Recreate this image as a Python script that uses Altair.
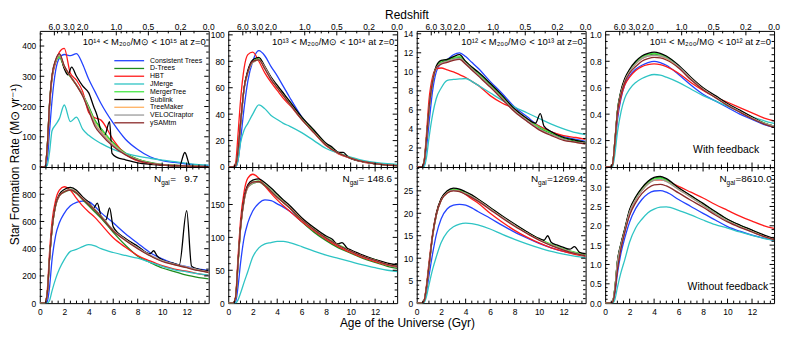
import altair as alt
import pandas as pd
import numpy as np

# ---------------------------------------------------------------- data
MODELS = ["Consistent Trees", "D-Trees", "HBT", "JMerge", "MergerTree",
          "Sublink", "TreeMaker", "VELOCIraptor", "ySAMtm"]
COLORS = ["#2343ff", "#1e8c1e", "#ff1a1a", "#2ec4c4", "#45e845",
          "#000000", "#ffb060", "#9a9a9a", "#8b2a2a"]

# common age grid (Gyr)
AGE = [0, 0.4, 0.6, 0.8, 1.0, 1.3, 1.6, 2.0, 2.5, 3.0, 3.5, 4.0, 4.5, 5.0,
       6.0, 7.0, 8.0, 9.0, 10.0, 11.0, 12.0, 13.0, 13.8]

# ---- top row: with feedback
P1_SFR = {
    "Consistent Trees": [0, 0, 20, 120, 220, 320, 360, 372, 368, 375, 340, 290, 250, 210, 145, 92, 58, 34, 21, 15, 10, 6, 5],
    "D-Trees":          [0, 0, 60, 210, 300, 352, 368, 330, 300, 272, 240, 200, 155, 128, 80, 46, 26, 15, 9, 6, 4, 2, 1],
    "HBT":              [0, 0, 55, 200, 290, 345, 380, 392, 310, 287, 250, 180, 163, 155, 90, 42, 20, 11, 6, 4, 3, 2, 1],
    "JMerge":           [0, 0, 5, 50, 120, 140, 160, 205, 150, 165, 125, 105, 90, 78, 58, 45, 36, 29, 23, 18, 12, 8, 6],
    "MergerTree":       [0, 0, 58, 205, 295, 348, 362, 328, 298, 270, 238, 196, 152, 126, 78, 44, 25, 14, 8, 5, 3, 2, 1],
    "Sublink":          [0, 0, 60, 210, 300, 350, 372, 325, 305, 330, 300, 268, 245, 200, 168, 120, 105, 150, 45, 32, 24, 14, 9, 6, 3, 2, 48, 2, 1, 1],
    "TreeMaker":        [0, 0, 60, 208, 300, 350, 370, 332, 300, 271, 237, 192, 145, 118, 74, 42, 24, 13, 8, 5, 3, 2, 1],
    "VELOCIraptor":     [0, 0, 60, 208, 300, 352, 372, 334, 301, 272, 238, 190, 142, 114, 72, 42, 23, 13, 8, 5, 3, 2, 1],
    "ySAMtm":           [0, 0, 62, 212, 303, 355, 375, 335, 300, 270, 235, 186, 135, 108, 68, 40, 22, 12, 7, 5, 3, 2, 1],
}
P1_SUBLINK_AGE = [0, 0.4, 0.6, 0.8, 1.0, 1.3, 1.6, 2.0, 2.3, 2.6, 3.0, 3.5, 4.0, 4.4, 4.7, 5.0, 5.3,
                  5.7, 5.9, 6.3, 7.0, 8.0, 9.0, 10.0, 11.0, 11.4, 11.85, 12.3, 13.0, 13.8]

P2_SFR = {
    "Consistent Trees": [0, 0, 0, 5, 20, 45, 65, 80, 88, 84, 76, 69, 61, 53, 38, 27, 17, 11, 7, 4, 2.5, 1.5, 1],
    "D-Trees":          [0, 0, 1, 12, 32, 60, 72, 79, 81, 75, 67, 61, 55, 49, 37, 27, 17, 11, 7, 4, 2.5, 1.5, 1],
    "HBT":              [0, 0, 3, 25, 50, 75, 85, 87, 80, 71, 64, 58, 52, 47, 36, 26, 16, 10, 6.5, 3.8, 2.6, 1.8, 1.5],
    "JMerge":           [0, 0, 0, 5, 18, 28, 33, 40, 47, 44, 39, 36, 33, 31, 26, 20, 14, 10.5, 7.5, 5, 3.5, 2.5, 2],
    "MergerTree":       [0, 0, 1, 12, 32, 60, 72, 80, 82, 75, 67, 61, 55, 49, 37, 27, 17, 11, 7, 4, 2.5, 1.5, 1],
    "Sublink":          [0, 0, 1, 12, 32, 60, 73, 81, 83, 76, 68, 62, 56, 50, 38, 28, 18, 15, 11, 11, 7.5, 4, 2.5, 1.5, 1],
    "TreeMaker":        [0, 0, 1, 12, 32, 59, 71, 79, 81, 75, 67, 60, 54, 48, 36, 26, 16.5, 10.5, 6.8, 4, 2.5, 1.5, 1],
    "VELOCIraptor":     [0, 0, 1, 12, 32, 59, 71, 79, 81, 75, 67, 60, 54, 48, 36, 26, 16.5, 10.5, 6.8, 4, 2.5, 1.5, 1],
    "ySAMtm":           [0, 0, 1, 13, 33, 60, 72, 80, 81, 74, 66, 60, 54, 48, 36, 26, 16.5, 10.5, 6.8, 4, 2.5, 1.5, 1],
}
P2_SUBLINK_AGE = [0, 0.4, 0.6, 0.8, 1.0, 1.3, 1.6, 2.0, 2.5, 3.0, 3.5, 4.0, 4.5, 5.0, 6.0, 7.0,
                  8.0, 8.5, 9.0, 9.4, 9.8, 11.0, 12.0, 13.0, 13.8]

P3_SFR = {
    "Consistent Trees": [0, 0, 0.2, 2.0, 4.5, 8.0, 10.0, 10.9, 11.3, 11.8, 12.0, 11.6, 11.0, 10.4, 9.0, 7.7, 6.3, 5.3, 4.3, 3.7, 3.2, 2.9, 2.7],
    "D-Trees":          [0, 0, 0.5, 3.0, 6.0, 9.0, 10.5, 11.0, 11.2, 11.4, 11.5, 11.0, 10.4, 9.8, 8.6, 7.3, 6.0, 5.0, 4.1, 3.5, 3.0, 2.7, 2.5],
    "HBT":              [0, 0, 0.6, 3.5, 7.0, 9.5, 10.3, 10.4, 10.2, 10.0, 9.7, 9.4, 9.0, 8.6, 7.5, 6.7, 6.1, 5.1, 4.3, 3.7, 3.3, 3.1, 2.9],
    "JMerge":           [0, 0, 0, 1.0, 3.0, 5.5, 7.2, 8.3, 9.1, 9.2, 9.25, 9.3, 9.0, 8.6, 7.8, 7.0, 6.3, 5.7, 5.1, 4.5, 4.0, 3.6, 3.4],
    "MergerTree":       [0, 0, 0.5, 3.0, 6.0, 9.0, 10.5, 11.1, 11.3, 11.5, 11.6, 11.1, 10.5, 9.9, 8.7, 7.4, 6.1, 5.1, 4.2, 3.6, 3.1, 2.8, 2.6],
    "Sublink":          [0, 0, 0.5, 3.0, 6.0, 9.0, 10.6, 11.2, 11.3, 11.6, 11.8, 11.1, 10.5, 10.0, 8.8, 7.5, 6.1, 5.1, 4.6, 5.6, 4.3, 3.7, 3.1, 2.8, 2.6],
    "TreeMaker":        [0, 0, 0.5, 3.0, 6.0, 9.0, 10.4, 10.9, 11.1, 11.3, 11.4, 10.9, 10.3, 9.7, 8.5, 7.2, 5.9, 4.9, 4.0, 3.4, 2.9, 2.6, 2.5],
    "VELOCIraptor":     [0, 0, 0.5, 3.0, 6.0, 9.0, 10.4, 10.9, 11.1, 11.3, 11.4, 10.9, 10.3, 9.7, 8.5, 7.2, 5.9, 4.9, 4.0, 3.4, 2.9, 2.6, 2.5],
    "ySAMtm":           [0, 0, 0.5, 3.0, 6.1, 9.0, 10.4, 10.8, 11.0, 11.2, 11.3, 10.8, 10.2, 9.6, 8.4, 7.1, 5.8, 4.8, 3.9, 3.3, 2.8, 2.6, 2.4],
}
P3_SUBLINK_AGE = [0, 0.4, 0.6, 0.8, 1.0, 1.3, 1.6, 2.0, 2.5, 3.0, 3.5, 4.0, 4.5, 5.0, 6.0, 7.0,
                  8.0, 9.0, 9.7, 10.1, 10.4, 11.0, 12.0, 13.0, 13.8]

P4_SFR = {
    "Consistent Trees": [0, 0, 0.01, 0.15, 0.35, 0.52, 0.62, 0.69, 0.74, 0.77, 0.79, 0.80, 0.79, 0.77, 0.70, 0.62, 0.55, 0.50, 0.45, 0.40, 0.36, 0.32, 0.30],
    "D-Trees":          [0, 0, 0.02, 0.20, 0.42, 0.57, 0.66, 0.73, 0.79, 0.83, 0.85, 0.855, 0.85, 0.83, 0.76, 0.67, 0.59, 0.53, 0.47, 0.42, 0.37, 0.33, 0.31],
    "HBT":              [0, 0, 0.02, 0.18, 0.38, 0.53, 0.62, 0.68, 0.73, 0.76, 0.775, 0.78, 0.775, 0.76, 0.71, 0.64, 0.58, 0.53, 0.49, 0.45, 0.41, 0.37, 0.35],
    "JMerge":           [0, 0, 0, 0.10, 0.26, 0.42, 0.52, 0.59, 0.64, 0.67, 0.69, 0.70, 0.695, 0.68, 0.64, 0.59, 0.54, 0.50, 0.46, 0.42, 0.38, 0.35, 0.33],
    "MergerTree":       [0, 0, 0.02, 0.20, 0.42, 0.57, 0.66, 0.73, 0.79, 0.83, 0.85, 0.86, 0.85, 0.835, 0.765, 0.675, 0.595, 0.535, 0.475, 0.425, 0.375, 0.335, 0.31],
    "Sublink":          [0, 0, 0.02, 0.20, 0.42, 0.58, 0.67, 0.74, 0.80, 0.84, 0.86, 0.87, 0.86, 0.84, 0.77, 0.68, 0.60, 0.54, 0.48, 0.43, 0.38, 0.33, 0.31],
    "TreeMaker":        [0, 0, 0.02, 0.20, 0.41, 0.56, 0.65, 0.72, 0.78, 0.82, 0.84, 0.845, 0.84, 0.82, 0.755, 0.67, 0.59, 0.53, 0.47, 0.42, 0.37, 0.33, 0.31],
    "VELOCIraptor":     [0, 0, 0.02, 0.20, 0.41, 0.56, 0.65, 0.72, 0.78, 0.82, 0.84, 0.845, 0.84, 0.825, 0.76, 0.67, 0.59, 0.53, 0.47, 0.42, 0.37, 0.33, 0.31],
    "ySAMtm":           [0, 0, 0.02, 0.20, 0.41, 0.55, 0.64, 0.71, 0.76, 0.80, 0.82, 0.83, 0.825, 0.81, 0.75, 0.66, 0.585, 0.525, 0.465, 0.415, 0.365, 0.325, 0.30],
}

# ---- bottom row: without feedback
P5_SFR = {
    "Consistent Trees": [0, 0, 10, 120, 320, 500, 590, 660, 715, 740, 750, 745, 710, 665, 590, 510, 440, 372, 325, 290, 268, 250, 240],
    "D-Trees":          [0, 0, 60, 330, 540, 720, 790, 815, 830, 805, 760, 715, 670, 625, 520, 425, 345, 300, 258, 232, 205, 188, 178],
    "HBT":              [0, 0, 80, 380, 600, 760, 830, 855, 830, 770, 715, 670, 630, 580, 480, 410, 350, 310, 275, 250, 235, 215, 205],
    "JMerge":           [0, 0, 0, 20, 90, 180, 250, 320, 380, 395, 415, 430, 420, 400, 372, 350, 330, 300, 270, 245, 230, 215, 205],
    "MergerTree":       [0, 0, 60, 330, 540, 720, 792, 820, 838, 818, 772, 732, 690, 640, 535, 463, 405, 350, 310, 284, 262, 240, 226],
    "Sublink":          [0, 0, 60, 335, 550, 728, 800, 835, 850, 830, 780, 742, 700, 735, 640, 610, 700, 560, 475, 418, 362, 385, 345, 318, 290, 282, 680, 272, 248, 236],
    "TreeMaker":        [0, 0, 60, 330, 540, 718, 788, 818, 835, 815, 770, 730, 688, 640, 535, 465, 405, 352, 312, 285, 264, 242, 228],
    "VELOCIraptor":     [0, 0, 60, 330, 540, 718, 788, 818, 835, 815, 770, 730, 688, 640, 537, 466, 406, 353, 312, 286, 265, 243, 229],
    "ySAMtm":           [0, 0, 62, 335, 545, 722, 790, 818, 832, 810, 765, 725, 682, 635, 530, 460, 400, 348, 306, 282, 260, 238, 225],
}
P5_SUBLINK_AGE = [0, 0.4, 0.6, 0.8, 1.0, 1.3, 1.6, 2.0, 2.5, 3.0, 3.5, 4.0, 4.4, 4.7, 5.0, 5.4, 5.7,
                  6.0, 7.0, 8.0, 9.0, 9.3, 9.6, 10.0, 11.0, 11.4, 12.0, 12.4, 13.0, 13.8]

P6_SFR = {
    "Consistent Trees": [0, 0, 2, 25, 60, 100, 122, 140, 152, 157, 156, 151, 146, 140, 124, 110, 97, 86, 77, 70, 64, 58, 55],
    "D-Trees":          [0, 0, 8, 60, 112, 157, 176, 182, 184, 178, 170, 161, 153, 145, 124, 108, 95, 84, 76, 68, 62, 56, 53],
    "HBT":              [0, 0, 10, 70, 125, 170, 190, 196, 190, 178, 167, 157, 148, 140, 124, 110, 97, 86, 77, 69, 63, 58, 55],
    "JMerge":           [0, 0, 0, 5, 15, 32, 48, 70, 84, 90, 92, 94, 94, 92, 86, 79, 73, 68, 63, 58, 54, 50, 48],
    "MergerTree":       [0, 0, 8, 60, 112, 157, 177, 184, 186, 180, 172, 163, 155, 147, 128, 113, 100, 89, 80, 72, 66, 60, 57],
    "Sublink":          [0, 0, 8, 62, 115, 160, 180, 187, 189, 183, 175, 166, 157, 149, 130, 115, 102, 97, 90, 92, 84, 81, 73, 66, 61, 58],
    "TreeMaker":        [0, 0, 8, 60, 112, 156, 176, 183, 185, 179, 171, 162, 154, 146, 127, 112, 99, 88, 79, 71, 65, 59, 56],
    "VELOCIraptor":     [0, 0, 8, 60, 112, 156, 176, 183, 185, 179, 171, 162, 154, 146, 127, 112, 99, 88, 79, 71, 65, 59, 56],
    "ySAMtm":           [0, 0, 9, 62, 114, 158, 178, 184, 185, 179, 170, 161, 153, 145, 127, 112, 99, 88, 79, 71, 65, 59, 56],
}
P6_SUBLINK_AGE = [0, 0.4, 0.6, 0.8, 1.0, 1.3, 1.6, 2.0, 2.5, 3.0, 3.5, 4.0, 4.5, 5.0, 6.0, 7.0,
                  8.0, 8.5, 8.9, 9.3, 9.7, 10.0, 11.0, 12.0, 13.0, 13.8]

P7_SFR = {
    "Consistent Trees": [0, 0, 0.3, 2.5, 6.0, 11.0, 15.2, 18.8, 21.0, 21.8, 22.0, 21.8, 21.2, 20.4, 18.9, 17.3, 15.8, 14.5, 13.3, 12.3, 11.5, 10.9, 10.5],
    "D-Trees":          [0, 0, 0.5, 3.5, 8.0, 15.0, 19.6, 23.0, 24.7, 25.3, 25.1, 24.5, 23.8, 23.0, 21.1, 19.2, 17.4, 15.7, 14.2, 13.0, 12.0, 11.2, 10.7],
    "HBT":              [0, 0, 0.6, 4.0, 9.0, 15.5, 20.0, 23.2, 24.7, 25.2, 25.0, 24.2, 23.2, 22.3, 20.0, 18.0, 16.2, 14.7, 13.4, 12.3, 11.5, 10.8, 10.4],
    "JMerge":           [0, 0, 0.1, 1.5, 4.0, 7.5, 10.3, 13.5, 15.8, 17.0, 17.6, 17.8, 17.7, 17.4, 16.5, 15.3, 14.2, 13.2, 12.3, 11.5, 10.9, 10.4, 10.1],
    "MergerTree":       [0, 0, 0.5, 3.5, 8.0, 15.0, 19.7, 23.1, 24.8, 25.4, 25.2, 24.6, 23.9, 23.1, 21.2, 19.3, 17.5, 15.8, 14.3, 13.1, 12.1, 11.3, 10.8],
    "Sublink":          [0, 0, 0.5, 3.6, 8.2, 15.2, 19.9, 23.3, 25.0, 25.6, 25.4, 24.8, 24.1, 23.2, 21.3, 19.4, 17.6, 15.9, 14.4, 14.0, 15.0, 13.5, 12.9, 12.4, 12.0, 12.6, 11.3, 11.0],
    "TreeMaker":        [0, 0, 0.5, 3.5, 8.0, 14.8, 19.5, 22.9, 24.6, 25.1, 24.9, 24.4, 23.7, 22.9, 21.0, 19.1, 17.3, 15.6, 14.1, 12.9, 11.9, 11.1, 10.6],
    "VELOCIraptor":     [0, 0, 0.5, 3.5, 8.0, 14.8, 19.5, 22.9, 24.6, 25.1, 24.9, 24.4, 23.7, 22.9, 21.0, 19.1, 17.3, 15.6, 14.1, 12.9, 11.9, 11.1, 10.6],
    "ySAMtm":           [0, 0, 0.5, 3.6, 8.1, 15.0, 19.6, 22.9, 24.5, 25.0, 24.8, 24.2, 23.5, 22.7, 20.8, 18.9, 17.1, 15.5, 14.0, 12.8, 11.8, 11.0, 10.5],
}
P7_SUBLINK_AGE = [0, 0.4, 0.6, 0.8, 1.0, 1.3, 1.6, 2.0, 2.5, 3.0, 3.5, 4.0, 4.5, 5.0, 6.0, 7.0,
                  8.0, 9.0, 10.0, 10.4, 10.7, 11.0, 11.5, 12.0, 12.5, 12.9, 13.3, 13.8]

P8_SFR = {
    "Consistent Trees": [0, 0, 0.02, 0.25, 0.75, 1.30, 1.68, 2.10, 2.45, 2.68, 2.83, 2.90, 2.91, 2.87, 2.68, 2.50, 2.32, 2.15, 1.98, 1.86, 1.76, 1.68, 1.62],
    "D-Trees":          [0, 0, 0.03, 0.40, 1.06, 1.53, 1.90, 2.40, 2.73, 2.96, 3.13, 3.23, 3.25, 3.19, 2.97, 2.77, 2.56, 2.35, 2.16, 2.01, 1.88, 1.74, 1.65],
    "HBT":              [0, 0, 0.03, 0.35, 0.90, 1.45, 1.85, 2.30, 2.68, 2.93, 3.10, 3.18, 3.19, 3.16, 3.02, 2.87, 2.72, 2.55, 2.40, 2.25, 2.12, 2.00, 1.93],
    "JMerge":           [0, 0, 0, 0.10, 0.40, 0.80, 1.12, 1.58, 1.95, 2.17, 2.34, 2.43, 2.48, 2.49, 2.40, 2.28, 2.15, 2.03, 1.94, 1.84, 1.75, 1.67, 1.62],
    "MergerTree":       [0, 0, 0.03, 0.40, 1.05, 1.52, 1.89, 2.38, 2.71, 2.94, 3.11, 3.21, 3.23, 3.18, 2.96, 2.76, 2.55, 2.34, 2.15, 2.00, 1.87, 1.73, 1.65],
    "Sublink":          [0, 0, 0.03, 0.40, 1.08, 1.55, 1.92, 2.42, 2.75, 2.98, 3.15, 3.25, 3.28, 3.22, 2.98, 2.78, 2.58, 2.37, 2.17, 2.02, 1.89, 1.76, 1.67],
    "TreeMaker":        [0, 0, 0.03, 0.38, 1.02, 1.50, 1.86, 2.35, 2.68, 2.91, 3.08, 3.18, 3.20, 3.15, 2.94, 2.74, 2.53, 2.32, 2.13, 1.98, 1.85, 1.72, 1.64],
    "VELOCIraptor":     [0, 0, 0.03, 0.38, 1.02, 1.50, 1.86, 2.35, 2.68, 2.91, 3.08, 3.18, 3.20, 3.15, 2.94, 2.74, 2.53, 2.32, 2.13, 1.98, 1.85, 1.72, 1.64],
    "ySAMtm":           [0, 0, 0.02, 0.30, 0.85, 1.42, 1.83, 2.27, 2.60, 2.83, 2.98, 3.06, 3.07, 3.03, 2.85, 2.66, 2.48, 2.28, 2.10, 1.96, 1.84, 1.72, 1.64],
}

# axis ticks / labels
AGE_TICKS = [0, 2, 4, 6, 8, 10, 12]
AGE_MINOR = [0.5, 1, 1.5, 2.5, 3, 3.5, 4.5, 5, 5.5, 6.5, 7, 7.5, 8.5, 9, 9.5, 10.5, 11, 11.5, 12.5, 13, 13.5]
REDSHIFT_LABELS = ["6.0", "3.0", "2.0", "1.0", "0.5", "0.2", "0.0"]
REDSHIFT_AGE = [1.19, 2.38, 3.49, 6.25, 8.87, 11.5, 13.8]
REDSHIFT_MINOR_AGE = [1.45, 1.8, 2.85, 4.3, 5.1, 6.65, 7.1, 7.6, 8.2, 9.6, 10.5, 12.6]

MASS_LABELS = ["10¹⁴ < M₂₀₀/M⊙ < 10¹⁵ at z=0", "10¹³ < M₂₀₀/M⊙ < 10¹⁴ at z=0",
               "10¹² < M₂₀₀/M⊙ < 10¹³ at z=0", "10¹¹ < M₂₀₀/M⊙ < 10¹² at z=0"]
NGAL_VALUES = ["\u00a0\u00a0\u00a09.7", "\u00a0148.6", "1269.4", "8610.0"]

PANELS = [
    dict(sfr=P1_SFR, sl_age=P1_SUBLINK_AGE, ymax=450, yt=[0, 100, 200, 300, 400], ymin=20, fmt="d"),
    dict(sfr=P2_SFR, sl_age=P2_SUBLINK_AGE, ymax=103, yt=[0, 20, 40, 60, 80, 100], ymin=4, fmt="d"),
    dict(sfr=P3_SFR, sl_age=P3_SUBLINK_AGE, ymax=14.3, yt=[0, 2, 4, 6, 8, 10, 12, 14], ymin=0.5, fmt="d"),
    dict(sfr=P4_SFR, sl_age=None, ymax=1.03, yt=[0, 0.2, 0.4, 0.6, 0.8, 1.0], ymin=0.05, fmt=".1f"),
    dict(sfr=P5_SFR, sl_age=P5_SUBLINK_AGE, ymax=1000, yt=[0, 200, 400, 600, 800], ymin=50, fmt="d"),
    dict(sfr=P6_SFR, sl_age=P6_SUBLINK_AGE, ymax=207, yt=[0, 50, 100, 150], ymin=10, fmt="d"),
    dict(sfr=P7_SFR, sl_age=P7_SUBLINK_AGE, ymax=30.3, yt=[0, 5, 10, 15, 20, 25], ymin=1, fmt="d"),
    dict(sfr=P8_SFR, sl_age=None, ymax=3.52, yt=[0, 0.5, 1.0, 1.5, 2.0, 2.5, 3.0], ymin=0.1, fmt=".1f"),
]

# ---------------------------------------------------------------- style
REG = "Liberation Sans, Arial, Helvetica, sans-serif"
W, H = 170, 137
GAP = 19.67
MAJ, MIN = 4.5, 2.5
TICKFONT = 8.5
YTITLE = "Star Formation Rate (M⊙ yr⁻¹)"
XTITLE = "Age of the Universe (Gyr)"

COLOR = alt.Color("model:N", scale=alt.Scale(domain=MODELS, range=COLORS), legend=None)


def series_frame(sfr, sl_age):
    rows = []
    for k, m in enumerate(MODELS):
        ages = sl_age if (m == "Sublink" and sl_age is not None) else AGE
        vals = sfr[m]
        assert len(ages) == len(vals), (m, len(ages), len(vals))
        for t, v in zip(ages, vals):
            rows.append({"t": t, "v": v, "model": m, "k": k})
    return pd.DataFrame(rows)


def minor_ticks(major, step, ymax):
    out = []
    n = int(np.floor(ymax / step + 1e-9))
    for j in range(1, n + 1):
        val = round(j * step, 6)
        if all(abs(val - mv) > 1e-6 for mv in major):
            out.append(val)
    return out


def text_layer(s, x, y, size, align="left", baseline="alphabetic"):
    return alt.Chart(pd.DataFrame({"s": [s]})).mark_text(
        baseline=baseline, align=align, font=REG, fontSize=size, color="black").encode(
        x=alt.value(x), y=alt.value(y), text="s:N")


def build_panel(i):
    p = PANELS[i]
    row, col = divmod(i, 4)
    xs = alt.Scale(domain=[0, 13.8], nice=False, zero=False)
    ys = alt.Scale(domain=[0, p["ymax"]], nice=False, zero=False)

    ykw = dict(values=p["yt"], format=p["fmt"], ticks=False, domain=False, grid=False,
               labelPadding=4, labelFont=REG, labelFontSize=TICKFONT, labelColor="black",
               labelFlush=False, labelOverlap=False)
    if i == 0:
        ykw.update(title=YTITLE, titleX=-18, titleY=H - 3, titleAngle=270, titleAlign="center",
                   titleBaseline="bottom", titleFont=REG, titleFontSize=12,
                   titleFontWeight="normal", titleColor="black")
    else:
        ykw["title"] = None
    yaxis = alt.Axis(**ykw)

    if row == 1:
        xkw = dict(values=AGE_TICKS, format="d", ticks=False, domain=False, grid=False,
                   labelPadding=4, labelFlush=False, labelFont=REG, labelFontSize=TICKFONT,
                   labelColor="black", labelOverlap=False)
        if col == 1:
            xkw.update(title=XTITLE, titleX=W + GAP / 2, titleY=24, titleAlign="center",
                       titleBaseline="alphabetic", titleFont=REG, titleFontSize=12,
                       titleFontWeight="normal", titleColor="black")
        else:
            xkw["title"] = None
        xaxis = alt.Axis(**xkw)
    else:
        xaxis = None

    df = series_frame(p["sfr"], p["sl_age"])
    lines = alt.Chart(df).mark_line(strokeWidth=1.3, clip=True, interpolate="monotone").encode(
        x=alt.X("t:Q", scale=xs, axis=xaxis),
        y=alt.Y("v:Q", scale=ys, axis=yaxis),
        color=COLOR,
    )

    layers = [lines]

    def xt(vals, y0, y1):
        return alt.Chart(pd.DataFrame({"p": vals})).mark_rule(color="black", strokeWidth=1).encode(
            x=alt.X("p:Q", scale=xs, axis=None), y=alt.value(y0), y2=alt.value(y1))

    def yt(vals, x0, x1):
        return alt.Chart(pd.DataFrame({"p": vals})).mark_rule(color="black", strokeWidth=1).encode(
            y=alt.Y("p:Q", scale=ys, axis=None), x=alt.value(x0), x2=alt.value(x1))

    layers += [xt(AGE_TICKS[1:], H, H - MAJ), xt(AGE_MINOR, H, H - MIN)]
    if row == 0:
        layers += [xt(REDSHIFT_AGE[:-1], 0, MAJ), xt(REDSHIFT_MINOR_AGE, 0, MIN)]
    else:
        layers += [xt(AGE_TICKS[1:], 0, MAJ), xt(AGE_MINOR, 0, MIN)]
    ymin = minor_ticks(p["yt"], p["ymin"], p["ymax"])
    ymaj = [v for v in p["yt"] if v > 0]
    layers += [yt(ymaj, 0, MAJ), yt(ymin, 0, MIN), yt(ymaj, W, W - MAJ), yt(ymin, W, W - MIN)]

    if row == 0:
        zlab = alt.Chart(pd.DataFrame({"a": REDSHIFT_AGE, "z": REDSHIFT_LABELS})).mark_text(
            baseline="alphabetic", align="center", font=REG, fontSize=TICKFONT, color="black").encode(
            x=alt.X("a:Q", scale=xs, axis=None), y=alt.value(-1), text="z:N")
        layers.append(zlab)
        layers.append(text_layer(MASS_LABELS[col], W - 3, 11, 9.5, align="right", baseline="middle"))
        if col == 1:
            layers.append(text_layer("Redshift", W + GAP / 2, -11.5, 12, align="center"))
        if col == 3:
            layers.append(text_layer("With feedback", 155, 123, 10.5, align="right"))
    else:
        base = 115
        layers += [text_layer("N", base, 15, 10),
                   text_layer("gal", base + 7.2, 18, 6.5),
                   text_layer("=" + NGAL_VALUES[col], base + 16.2, 15, 10)]
        if col == 3:
            layers.append(text_layer("Without feedback", 164, 123.5, 10.5, align="right"))

    if i == 0:
        legscale = alt.Scale(type="point", domain=MODELS, range=[30, 92.5], padding=0)
        ldf = pd.DataFrame({"model": MODELS})
        lr = alt.Chart(ldf).mark_rule(strokeWidth=1.3).encode(
            y=alt.Y("model:N", scale=legscale, axis=None),
            x=alt.value(75), x2=alt.value(105), color=COLOR)
        lt = alt.Chart(ldf).mark_text(align="left", baseline="middle", font=REG,
                                      fontSize=7, color="black").encode(
            y=alt.Y("model:N", scale=legscale, axis=None),
            x=alt.value(111), text="model:N")
        layers += [lr, lt]

    ch = alt.layer(*layers).properties(width=W, height=H)
    if i == 0:
        ch = ch.resolve_scale(y="independent")
    ch = ch.resolve_axis(x="independent", y="independent")
    return ch


chart = alt.concat(*[build_panel(i) for i in range(8)], columns=4,
                   spacing={"row": 0, "column": GAP}, bounds="flush").properties(
    padding=0, background="white"
).configure_view(stroke="black", strokeWidth=1)

chart.save("out.html", embed_options={"renderer": "svg", "actions": False})
